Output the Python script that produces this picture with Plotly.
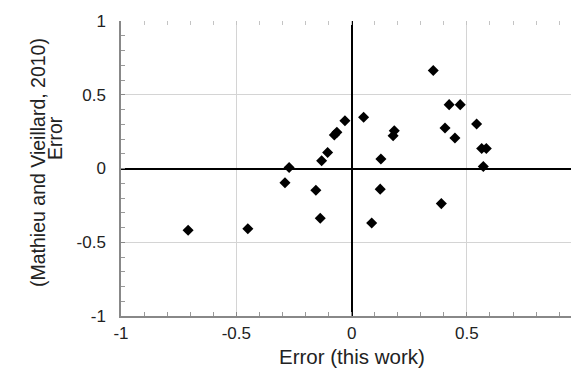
import plotly.graph_objects as go

x_this_work = [-0.709, -0.450, -0.289, -0.271, -0.155, -0.136, -0.130, -0.104, -0.075, -0.064,
               -0.029, 0.052, 0.087, 0.127, 0.124, 0.180, 0.185, 0.354, 0.389, 0.405,
               0.423, 0.471, 0.448, 0.542, 0.564, 0.584, 0.571]
y_mathieu = [-0.419, -0.408, -0.097, 0.007, -0.147, -0.337, 0.052, 0.109, 0.227, 0.245,
             0.324, 0.347, -0.369, 0.064, -0.140, 0.222, 0.256, 0.665, -0.238, 0.275,
             0.433, 0.433, 0.207, 0.302, 0.136, 0.136, 0.014]

x_ticks = [-1, -0.5, 0, 0.5, 1]
x_tick_labels = ["-1", "-0.5", "0", "0.5", "1"]
y_ticks = [-1, -0.5, 0, 0.5, 1]
y_tick_labels = ["-1", "-0.5", "0", "0.5", "1"]

x_title = "Error (this work)"
y_title_1 = "Error"
y_title_2 = "(Mathieu and Vieillard, 2010)"

FONT = "Liberation Sans, Arial, sans-serif"
XR = [-1, 0.986]
YR = [-1, 1]

# page body has an 8px default margin: compensate
OFF = 8
W, H = 579 - OFF, 368 - OFF
L, R, T, B = 121 - OFF, 0, 21 - OFF, 52
PW, PH = W - L - R, H - T - B


def px_x(px):
    return (px - OFF - L) / PW


def px_y(py):
    return (H - B - (py - OFF)) / PH


fig = go.Figure()
fig.add_trace(go.Scatter(
    x=x_this_work, y=y_mathieu, mode="markers",
    marker=dict(symbol="diamond", size=8.5, color="black", line=dict(width=0)),
    showlegend=False, hoverinfo="x+y",
))
# invisible trace to activate mirrored tick axes
fig.add_trace(go.Scatter(x=[None], y=[None], xaxis="x2", yaxis="y2",
                         showlegend=False, hoverinfo="skip"))

fig.update_layout(
    width=W, height=H,
    margin=dict(l=L, r=R, t=T, b=B),
    paper_bgcolor="white", plot_bgcolor="white",
    font=dict(family=FONT, size=17, color="#222"),
    xaxis=dict(
        range=XR, tickmode="array", tickvals=x_ticks, ticktext=x_tick_labels,
        ticks="inside", ticklen=4, tickcolor="#888", tickwidth=1,
        showgrid=True, gridcolor="#d4d4d4", gridwidth=1,
        zeroline=True, zerolinecolor="black", zerolinewidth=1.5,
        showline=True, linecolor="#888", linewidth=1.5,
        minor=dict(dtick=0.1, tick0=0, ticks="inside", ticklen=4, tickcolor="#999", showgrid=False),
        tickfont=dict(size=17, color="#222"), ticklabelstandoff=1,
    ),
    yaxis=dict(
        range=YR, tickmode="array", tickvals=y_ticks, ticktext=y_tick_labels,
        ticks="inside", ticklen=4, tickcolor="#888", tickwidth=1,
        showgrid=True, gridcolor="#d4d4d4", gridwidth=1,
        zeroline=True, zerolinecolor="black", zerolinewidth=1.5,
        showline=True, linecolor="#888", linewidth=1.5,
        minor=dict(dtick=0.1, tick0=0, ticks="inside", ticklen=4, tickcolor="#999", showgrid=False),
        tickfont=dict(size=17, color="#222"), ticklabelstandoff=10,
    ),
    xaxis2=dict(
        range=XR, overlaying="x", side="top", showticklabels=False,
        showgrid=False, zeroline=False, showline=False,
        tickmode="linear", tick0=0, dtick=0.1, ticks="inside", ticklen=4, tickcolor="#c4c4c4",
    ),
    yaxis2=dict(
        range=YR, overlaying="y", side="right", showticklabels=False,
        showgrid=False, zeroline=False, showline=False,
        tickmode="linear", tick0=0, dtick=0.1, ticks="inside", ticklen=4, tickcolor="#aaa",
    ),
    annotations=[
        dict(text=x_title, xref="paper", yref="paper", x=px_x(351.5), y=px_y(356),
             xanchor="center", yanchor="middle", showarrow=False, font=dict(size=20.5, color="#222")),
        dict(text=y_title_1, xref="paper", yref="paper", x=px_x(55), y=px_y(138),
             xanchor="center", yanchor="middle", textangle=-90, showarrow=False,
             font=dict(size=19.5, color="#222")),
        dict(text=y_title_2, xref="paper", yref="paper", x=px_x(38), y=px_y(163),
             xanchor="center", yanchor="middle", textangle=-90, showarrow=False,
             font=dict(size=19.5, color="#222")),
    ],
)

fig.write_html("out.html")
